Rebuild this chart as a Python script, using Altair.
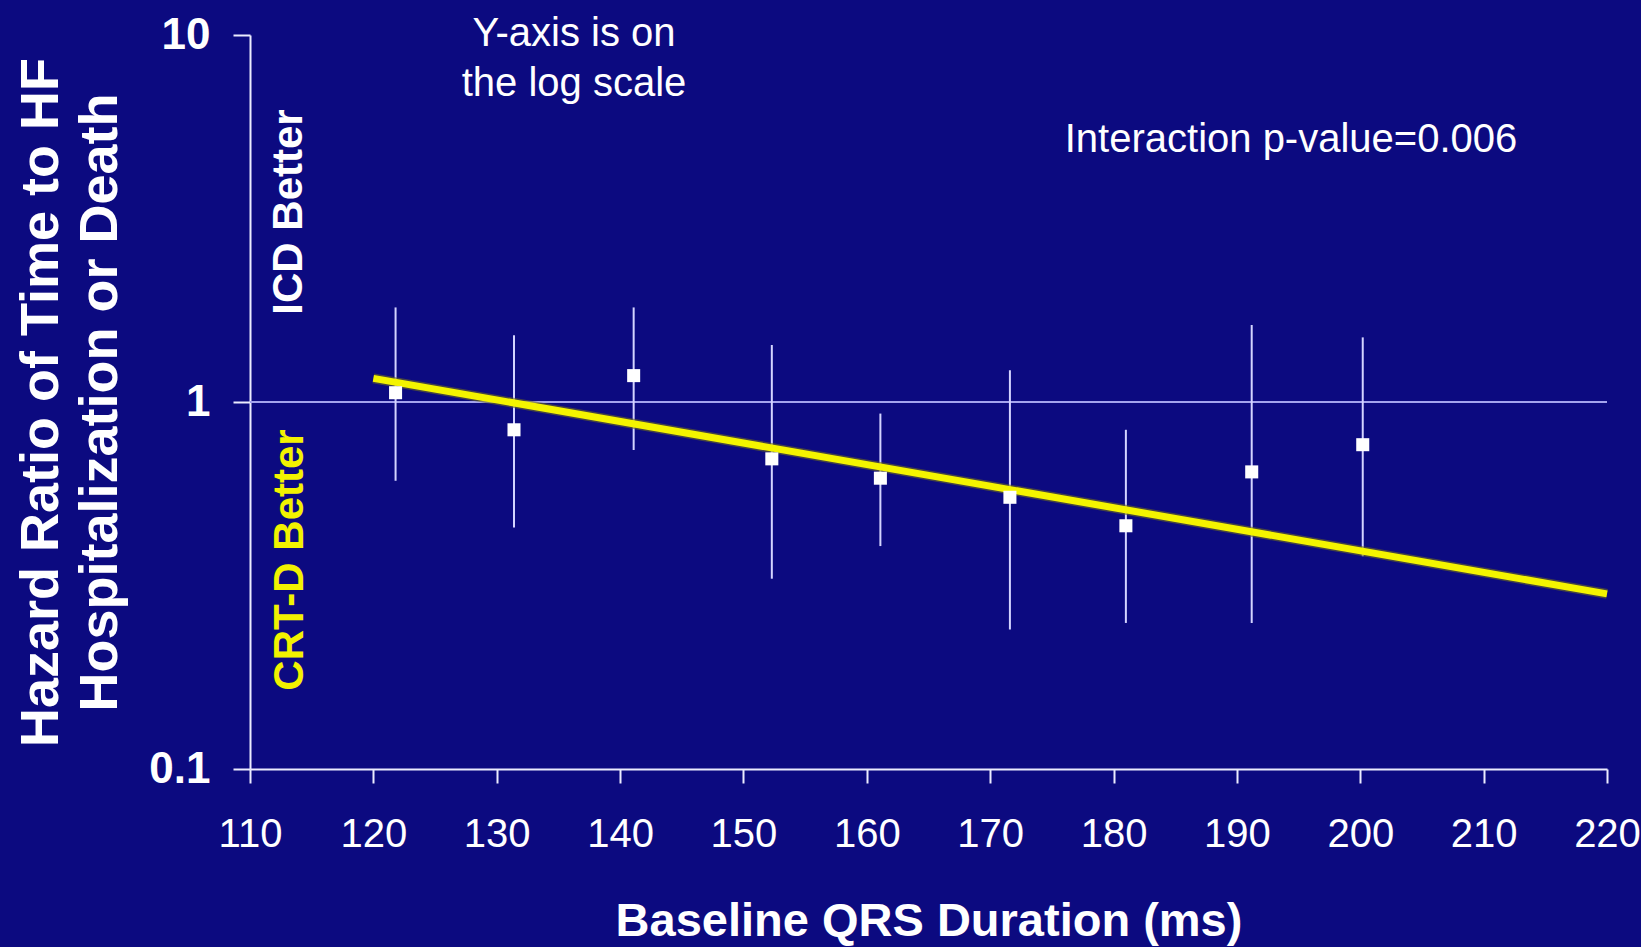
import altair as alt
import pandas as pd

# Subgroup estimates by baseline QRS duration (ms)
qrs = [121.8, 131.4, 141.1, 152.3, 161.1, 171.6, 181.0, 191.2, 200.2]
hazard_ratio = [1.06, 0.84, 1.18, 0.70, 0.62, 0.55, 0.46, 0.645, 0.765]
ci_low = [0.61, 0.455, 0.74, 0.33, 0.405, 0.24, 0.25, 0.25, 0.38]
ci_high = [1.81, 1.52, 1.81, 1.43, 0.93, 1.22, 0.84, 1.62, 1.50]

# Fitted log-linear trend
fit_qrs = [120, 220]
fit_hr = [1.16, 0.30]

x_ticks = list(range(110, 221, 10))
y_ticks = [0.1, 1, 10]

BG = "#0c0a80"
AXIS = "#ececff"
FONT = "Liberation Sans"

points = pd.DataFrame({"qrs": qrs, "hr": hazard_ratio, "lo": ci_low, "hi": ci_high})
fit = pd.DataFrame({"qrs": fit_qrs, "hr": fit_hr})
one = pd.DataFrame({"n": [0]})

x_axis = alt.Axis(
    values=x_ticks, title="Baseline QRS Duration (ms)", grid=False,
    domainColor=AXIS, domainWidth=2, tickColor=AXIS, tickWidth=2, tickSize=14,
    labelColor="white", labelFont=FONT, labelFontSize=40, labelPadding=31,
    labelFlush=False, labelOverlap=False,
    titleColor="white", titleFont=FONT, titleFontSize=47, titleFontWeight="bold",
    titleBaseline="alphabetic", titleY=166,
)
y_axis = alt.Axis(
    values=y_ticks, labelExpr="toString(datum.value)", grid=False,
    title=["Hazard Ratio of Time to HF", "Hospitalization or Death"],
    domainColor=AXIS, domainWidth=2, tickColor=AXIS, tickWidth=2, tickSize=17,
    labelColor="white", labelFont=FONT, labelFontSize=44, labelFontWeight="bold",
    labelPadding=23, labelFlush=False, labelOverlap=False,
    titleColor="white", titleFont=FONT, titleFontSize=54, titleFontWeight="bold",
    titleAngle=270, titleBaseline="alphabetic", titleAlign="center",
    titleX=-193, titleY=367, titleLineHeight=59,
)

x_scale = alt.Scale(domain=[110, 220], nice=False, zero=False)
y_scale = alt.Scale(type="log", domain=[0.1, 10], nice=False)


def xe(field="qrs"):
    return alt.X(f"{field}:Q", scale=x_scale, axis=x_axis)


def ye(field="hr"):
    return alt.Y(f"{field}:Q", scale=y_scale, axis=y_axis)


# Reference line at HR = 1
ref = alt.Chart(one).mark_rule(color="#a4a4ee", strokeWidth=2).encode(
    y=alt.Y(datum=1, type="quantitative", scale=y_scale, axis=y_axis)
)

bars = alt.Chart(points).mark_rule(color="#d4d4ff", strokeWidth=2).encode(
    x=xe(), y=ye("lo"), y2="hi:Q"
)

trend_shadow = alt.Chart(fit).mark_line(color="#6e6a1c", strokeWidth=10, opacity=0.6).encode(
    x=xe(), y=ye()
)
trend = alt.Chart(fit).mark_line(color="#f4f400", strokeWidth=7).encode(x=xe(), y=ye())

marks = alt.Chart(points).mark_point(
    shape="square", filled=True, color="white", opacity=1, size=170
).encode(x=xe(), y=ye())

note_log = alt.Chart(one).mark_text(
    text=["Y-axis is on", "the log scale"], font=FONT, fontSize=40, lineHeight=50,
    color="white", align="center", baseline="alphabetic",
).encode(x=alt.value(324), y=alt.value(11))

note_p = alt.Chart(one).mark_text(
    text="Interaction p-value=0.006", font=FONT, fontSize=40,
    color="white", align="center", baseline="alphabetic",
).encode(x=alt.value(1041), y=alt.value(117))

note_icd = alt.Chart(one).mark_text(
    text="ICD Better", font=FONT, fontSize=42, fontWeight="bold", angle=270,
    color="white", align="center", baseline="middle",
).encode(x=alt.value(39), y=alt.value(177))

note_crt = alt.Chart(one).mark_text(
    text="CRT-D Better", font=FONT, fontSize=42, fontWeight="bold", angle=270,
    color="#f2f200", align="center", baseline="middle",
).encode(x=alt.value(40), y=alt.value(525))

chart = (
    alt.layer(ref, bars, trend_shadow, trend, marks, note_log, note_p, note_icd, note_crt)
    .properties(
        width=1357, height=734, autosize="none",
        padding={"left": 250, "top": 35, "right": 34, "bottom": 178},
    )
    .configure(background=BG)
    .configure_view(stroke=None, fill=BG)
)

chart.save("out.html", embed_options={"renderer": "svg", "actions": False})
